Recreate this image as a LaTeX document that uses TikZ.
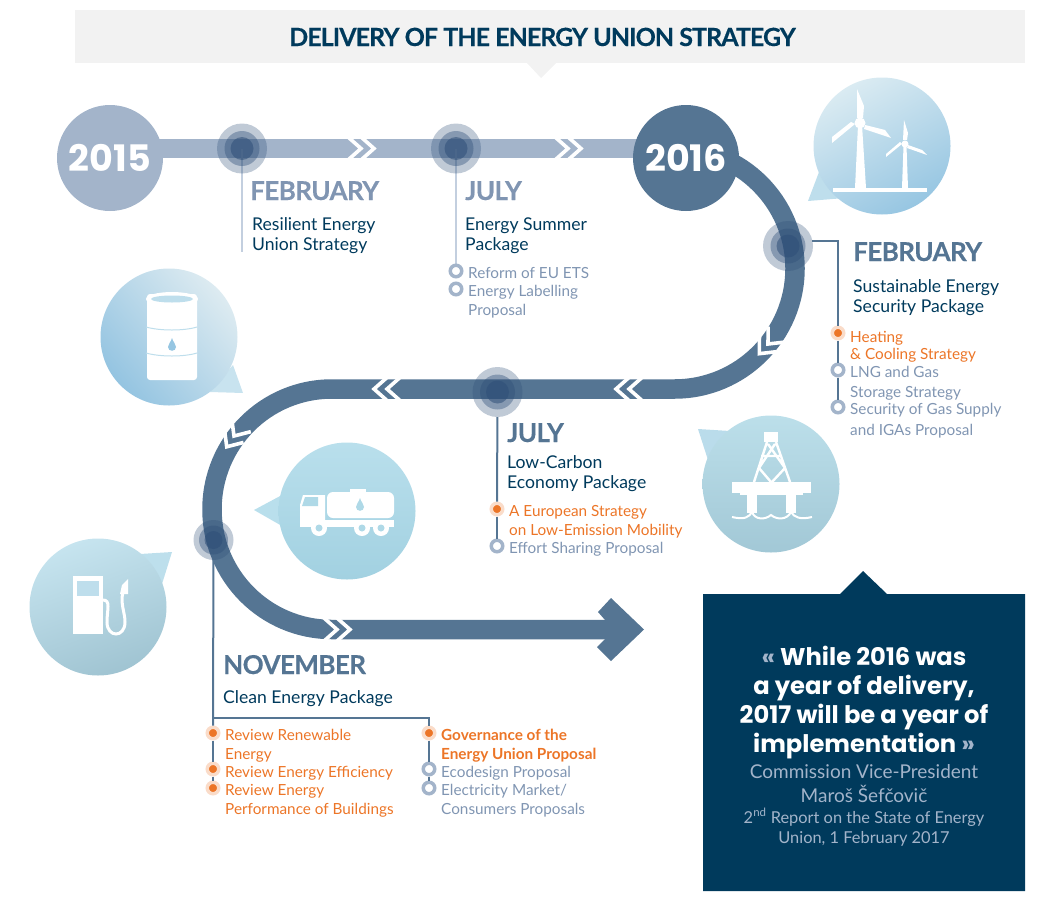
\documentclass[tikz,border=0pt]{standalone}
\usepackage{fontspec}
\setmainfont{Lato}
\newfontfamily\yearfont{Poppins}
\newfontfamily\titlefont{Lato}[BoldFeatures={FakeBold=0.35}, LetterSpace=-3.8]
\newfontfamily\monthfont{Lato}[BoldFeatures={FakeBold=0.35}, LetterSpace=-2.2]
\definecolor{navy}{HTML}{003A5C}
\definecolor{bandlight}{HTML}{A3B4CA}
\definecolor{banddark}{HTML}{557593}
\definecolor{greytxt}{HTML}{8095B2}
\definecolor{orangetxt}{HTML}{EC7527}
\definecolor{stemlight}{HTML}{C3CFDF}
\definecolor{ringcol}{HTML}{2F4F78}
\definecolor{paleblue}{HTML}{BEDEEC}
\definecolor{truckblue}{HTML}{AFD9E7}
\definecolor{dropblue}{HTML}{96C6E2}
\tikzset{
	bandL/.style={draw=bandlight, line width=19.5pt},
	bandD/.style={draw=banddark, line width=19.5pt},
	yearnode/.style={circle, minimum size=106pt, inner sep=0pt, text=white, font=\yearfont\bfseries\fontsize{36.5}{37}\selectfont},
	ringO/.style={circle, fill=ringcol, opacity=0.3, inner sep=0pt, minimum size=50pt},
	ringM/.style={circle, fill=ringcol, opacity=0.4, inner sep=0pt, minimum size=35pt},
	ringI/.style={circle, fill=ringcol, opacity=0.55, inner sep=0pt, minimum size=23pt},
	stemL/.style={draw=stemlight, line width=2.4pt},
	stemD/.style={draw=banddark, line width=2pt},
	orangedot/.style={circle, fill=orangetxt, draw=orangetxt!25, line width=3.5pt, inner sep=0pt, minimum size=11.5pt},
	greydot/.style={circle, fill=white, draw=bandlight, line width=3.5pt, inner sep=0pt, minimum size=11.5pt},
	month/.style={anchor=base west, inner sep=0pt, text=#1, font=\monthfont\bfseries\fontsize{26}{26}\selectfont},
	pack/.style={anchor=base west, inner sep=0pt, text=navy, align=left, font=\fontsize{17.6}{20}\selectfont},
	greyitem/.style={anchor=base west, inner sep=0pt, text=greytxt, align=left, font=\fontsize{15.3}{18.5}\selectfont},
	orangeitem/.style={anchor=base west, inner sep=0pt, text=orangetxt, align=left, font=\fontsize{15.3}{18.5}\selectfont},
	chevline/.style={draw=white, line width=3.6pt, miter limit=10},
	icon/.style={fill=white, draw=none},
}
\newcommand{\chev}[2]{%
	\begin{scope}[shift={#1}, rotate=#2]
		\draw[chevline] (-13,-11.5) -- (0,0) -- (-13,11.5);
		\draw[chevline] (0,-11.5) -- (13,0) -- (0,11.5);
	\end{scope}}
\begin{document}
\begin{tikzpicture}[x=1pt, y=-1pt]
	\useasboundingbox (0,0) rectangle (1064,910);
	%%%title
	\fill[black!5] (75,10) rectangle (1025,63);
	\fill[black!5] (527,63) -- (556,63) -- (541,78) -- cycle;
	\node[text=navy, inner sep=0pt, anchor=base, font=\titlefont\bfseries\fontsize{25}{25}\selectfont] at (542.5,46) (title){DELIVERY OF THE ENERGY UNION STRATEGY};
	%%%bubbles
	%wind
	\fill[fill=paleblue] (808,201) -- (819,172) -- (845,198) -- cycle;
	\shade[top color={rgb,255:red,218;green,235;blue,242}, middle color={rgb,255:red,200;green,227;blue,238}, bottom color={rgb,255:red,151;green,198;blue,226}, shading angle=30] (882,146) circle[radius=68.5pt];
	%barrel
	\fill[fill=paleblue!85!white] (243,393) -- (233,365) -- (210,392) -- cycle;
	\shade[top color={rgb,255:red,221;green,235;blue,241}, middle color={rgb,255:red,190;green,222;blue,236}, bottom color={rgb,255:red,148;green,196;blue,225}, shading angle=-50] (169,337) circle[radius=68.5pt];
	%truck
	\fill[fill={rgb,255:red,185;green,223;blue,236}] (254,510) -- (282,495) -- (282,526) -- cycle;
	\shade[top color={rgb,255:red,185;green,223;blue,236}, bottom color={rgb,255:red,162;green,209;blue,225}] (347,511) circle[radius=68.5pt];
	%pump
	\fill[fill={rgb,255:red,189;green,223;blue,236}] (172,552) -- (140,554) -- (162,584) -- cycle;
	\shade[top color={rgb,255:red,198;green,228;blue,239}, middle color={rgb,255:red,191;green,223;blue,236}, bottom color={rgb,255:red,160;green,196;blue,210}, shading angle=20] (98,607) circle[radius=68.5pt];
	%rig
	\fill[fill={rgb,255:red,186;green,220;blue,235}] (698,429) -- (730,431) -- (708,460) -- cycle;
	\shade[top color={rgb,255:red,188;green,223;blue,234}, middle color={rgb,255:red,198;green,227;blue,238}, bottom color={rgb,255:red,162;green,200;blue,214}] (771,484) circle[radius=68.5pt];
	%%%icons
	%wind turbines
	\fill[icon] (833,188) rectangle (927,192);
	\fill[icon] (858,125) -- (862,125) -- (866,188) -- (855,188) -- cycle;
	\fill[icon] (857,89) -- (864,106) -- (863,118) -- (857,118) -- cycle;
	\fill[icon] (865,125) -- (885,130) -- (891,138) -- (864,129) -- cycle;
	\fill[icon] (855,124) -- (832,143) -- (832,137) -- (851,122) -- cycle;
	\fill[icon] (860,123) circle[radius=5.5pt];
	\fill[icon] (903.5,146) -- (906.5,146) -- (908,188) -- (902,188) -- cycle;
	\fill[icon] (904,120) -- (908,133) -- (907,140) -- (903,140) -- cycle;
	\fill[icon] (908,145) -- (922,150) -- (927,155) -- (907,148) -- cycle;
	\fill[icon] (902,144) -- (886,157) -- (886,154) -- (900,142) -- cycle;
	\fill[icon] (905,144) circle[radius=3.5pt];
	%barrel
	\fill[icon, rounded corners=3pt] (147,294) rectangle (197,380);
	\fill[icon] (172,299) ellipse[x radius=26pt, y radius=7pt];
	\fill[fill=paleblue] (172,299) ellipse[x radius=21pt, y radius=3.5pt];
	\draw[draw=paleblue, line width=1pt] (146,327) .. controls (160,331) and (184,331) .. (197,327);
	\draw[draw=paleblue, line width=1pt] (146,353) .. controls (160,357) and (184,357) .. (197,353);
	\fill[fill=dropblue] (172,338) .. controls (173,342) and (176,344) .. (176,347) .. controls (176,352) and (168,352) .. (168,347) .. controls (168,344) and (171,342) .. (172,338) -- cycle;
	%truck
	\fill[icon, rounded corners=6pt] (327,492) rectangle (394,518);
	\fill[icon] (350,489) rectangle (366,492);
	\fill[icon] (300,520) rectangle (394,527);
	\fill[icon] (303,495) -- (325,495) -- (325,520) -- (300,520) -- (300,505) -- cycle;
	\fill[fill=truckblue] (305,497) -- (318,497) -- (318,506) -- (302,506) -- cycle;
	\foreach \wx in {319,362,381}{
		\fill[icon] (\wx,528) circle[radius=8pt];
		\fill[fill=truckblue] (\wx,528) circle[radius=3.5pt];
	}
	\fill[fill=truckblue] (360,498) .. controls (361,502) and (364,504) .. (364,507) .. controls (364,512) and (356,512) .. (356,507) .. controls (356,504) and (359,502) .. (360,498) -- cycle;
	%pump
	\fill[icon] (73,576) rectangle (103,634);
	\fill[fill=paleblue] (77,581) rectangle (99,596);
	\draw[draw=white, line width=3pt] (103,600) .. controls (111,600) and (107,610) .. (107,622) .. controls (107,638) and (125,638) .. (125,622) .. controls (125,612) and (120,604) .. (123,592);
	\fill[icon] (120,594) -- (122,585) -- (128,579) -- (128,594) -- cycle;
	%rig
	\fill[icon] (764,432) rectangle (778,442);
	\fill[icon] (732,482) rectangle (811,493);
	\fill[icon] (747,493) rectangle (757,513);
	\fill[icon] (786,493) rectangle (796,513);
	\fill[icon] (740,493) rectangle (803,495);
	\draw[draw=white, line width=2.4pt] (767,442) -- (754,482) (776,442) -- (790,482) (768,444) -- (785,468) -- (772,482) (775,444) -- (759,468) -- (771,482) (761,456) -- (782,456);
	\draw[draw=white, line width=2pt] (732,517) .. controls (745,520) and (749,517) .. (752,512) .. controls (755,520) and (765,520) .. (771,515) .. controls (777,520) and (787,520) .. (791,512) .. controls (794,517) and (800,520) .. (812,517);
	%%%path
	\draw[bandL] (110,148.5) -- (686,148.5);
	\draw[bandD] (674.5,148.5) .. controls (741,148.5) and (795,202) .. (795,268.5) .. controls (795,335) and (741,389) .. (674.5,389) -- (332,389) .. controls (265.5,389) and (212,442.8) .. (212,509.3) .. controls (212,575.8) and (265.5,629.5) .. (332,629.5) -- (606,629.5);
	\fill[fill=banddark] (611,598) -- (644,629.5) -- (611,661) -- (597,647) -- (605,639) -- (605,620) -- (598,612) -- cycle;
	%chevrons
	\chev{(361,148.5)}{0}
	\chev{(568,148.5)}{0}
	\chev{(768,344)}{228}
	\chev{(629,389)}{180}
	\chev{(387,389)}{180}
	\chev{(234,436)}{236}
	\chev{(337,629.5)}{0}
	%%%years
	\node[yearnode, fill=bandlight] at (110,158) (y2015){2015};
	\node[yearnode, fill=banddark] at (686,158) (y2016){2016};
	%%%milestones
	\coordinate (febAend) at (242,252);
	\coordinate (julAend) at (456,271);
	\draw[stemL] (242,148.5) -- (febAend);
	\node[ringO] at (242,148.5) (febAo){};
	\node[ringM] at (febAo) (febAm){};
	\node[ringI] at (febAo) (febAi){};
	\draw[stemL] (456,148.5) -- (julAend);
	\node[ringO] at (456,148.5) (julAo){};
	\node[ringM] at (julAo) (julAm){};
	\node[ringI] at (julAo) (julAi){};
	\node[ringO] at (788,246) (febBo){};
	\node[ringM] at (febBo) (febBm){};
	\node[ringI] at (febBo) (febBi){};
	\node[ringO] at (497.5,392) (julBo){};
	\node[ringM] at (julBo) (julBm){};
	\node[ringI] at (julBo) (julBi){};
	\node[ringO, minimum size=40pt] at (213.5,540) (novo){};
	\node[ringM, minimum size=29pt] at (novo) (novm){};
	\node[ringI, minimum size=18pt] at (novo) (novi){};
	%%%texts
	%top row
	\node[month=greytxt] at (250,200) (febAt){FEBRUARY};
	\node[pack] at (252,250) (febAp){Resilient Energy\\Union Strategy};
	\node[month=greytxt] at (465,200) (julAt){JULY};
	\node[pack] at (465,250) (julAp){Energy Summer\\Package};
	\node[greyitem] at (468,278) (julAa){Reform of EU ETS};
	\node[greyitem] at (468,315) (julAb){Energy Labelling\\Proposal};
	%right
	\node[month=banddark] at (853,261) (febBt){FEBRUARY};
	\node[pack] at (853,312) (febBp){Sustainable Energy\\Security Package};
	\node[orangeitem] at (850,359) (febBa){Heating\\[-1.5pt]\& Cooling Strategy};
	\node[greyitem] at (850,397) (febBb){LNG and Gas\\[1.5pt]Storage Strategy};
	\node[greyitem] at (850,435) (febBc){Security of Gas Supply\\[2.5pt]and IGAs Proposal};
	%middle
	\node[month=banddark] at (507,442) (julBt){JULY};
	\node[pack] at (507,488) (julBp){Low-Carbon\\Economy Package};
	\node[orangeitem] at (509,535) (julBa){A European Strategy\\on Low-Emission Mobility};
	\node[greyitem] at (509,553) (julBb){Effort Sharing Proposal};
	%bottom
	\node[month=banddark] at (223,674) (novt){NOVEMBER};
	\node[pack] at (223,703) (novp){Clean Energy Package};
	\node[orangeitem] at (225,759) (nova){Review Renewable\\Energy};
	\node[orangeitem] at (225,777) (novb){Review Energy Efficiency};
	\node[orangeitem] at (225,814) (novc){Review Energy\\Performance of Buildings};
	\node[orangeitem] at (441,759) (novd){\bfseries Governance of the\\\bfseries Energy Union Proposal};
	\node[greyitem] at (441,777) (nove){Ecodesign Proposal};
	\node[greyitem] at (441,814) (novf){Electricity Market/\\Consumers Proposals};
	%%%bullets
	\node[greydot] at (456,271) (julAd1){};
	\node[greydot] at (456,289) (julAd2){};
	\node[orangedot] at (838,333) (febBd1){};
	\node[greydot] at (838,370) (febBd2){};
	\node[greydot] at (838,407) (febBd3){};
	\node[orangedot] at (497,509) (julBd1){};
	\node[greydot] at (497,546) (julBd2){};
	\node[orangedot] at (213,733) (novd1){};
	\node[orangedot] at (213,769) (novd2){};
	\node[orangedot] at (213,788) (novd3){};
	\node[orangedot] at (429,733) (novd4){};
	\node[greydot] at (429,769) (novd5){};
	\node[greydot] at (429,788) (novd6){};
	%%%links
	\coordinate (febBc0) at (812,241);
	\coordinate (febBc1) at (838,241);
	\coordinate (novc1) at (213,718);
	\coordinate (novc2) at (429,718);
	\draw[stemD] (febBc0) -- (febBc1) -- (febBd1);
	\draw[stemD] (febBd1) -- (febBd2);
	\draw[stemD] (febBd2) -- (febBd3);
	\draw[stemD] (julBo) -- (julBd1);
	\draw[stemD] (julBd1) -- (julBd2);
	\draw[stemD] (novo) -- (novd1);
	\draw[stemD] (novd1) -- (novd2);
	\draw[stemD] (novd2) -- (novd3);
	\draw[stemD] (novc1) -- (novc2) -- (novd4);
	\draw[stemD] (novd4) -- (novd5);
	\draw[stemD] (novd5) -- (novd6);
	%%%quote
	\fill[fill=navy] (703,594) -- (840,594) -- (863,571) -- (887,594) -- (1025,594) -- (1025,891) -- (703,891) -- cycle;
	\node[anchor=base, inner sep=0pt, align=center, text=white, font=\yearfont\bfseries\fontsize{24.2}{28.7}\selectfont] at (864,752) (quote){{\color{bandlight}«} While 2016 was\\a year of delivery,\\2017 will be a year of\\implementation {\color{bandlight}»}};
	\node[anchor=base, inner sep=0pt, align=center, text=bandlight, font=\fontsize{19}{24}\selectfont] at (864,802) (speaker){Commission Vice-President\\Maroš Šefčovič};
	\node[anchor=base, inner sep=0pt, align=center, text=bandlight, font=\fontsize{16.4}{20}\selectfont] at (864,843) (source){2\textsuperscript{nd} Report on the State of Energy\\Union, 1 February 2017};
\end{tikzpicture}
\end{document}
